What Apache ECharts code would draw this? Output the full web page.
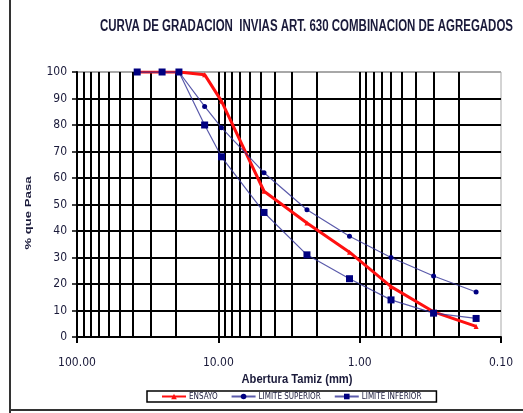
<!DOCTYPE html>
<html><head><meta charset="utf-8">
<script src="https://cdn.jsdelivr.net/npm/echarts@6/dist/echarts.min.js"></script>
<style>html,body{margin:0;padding:0;background:#fff}#c{width:523px;height:413px}</style>
</head><body><div id="c"></div>
<script>
const sizes = [37.5, 25, 19, 12.5, 9.5, 4.75, 2.36, 1.18, 0.6, 0.3, 0.15];
const ensayo = [100, 100, 100, 99, 89, 55, 43, 32, 19, 9.5, 4];
const limSup = [100, 100, 100, 87, 79, 62, 48, 38, 30, 23, 17];
const limInf = [100, 100, 100, 80, 68, 47, 31, 22, 14, 9, 7];
const gridTicks = [90,80,70,60,50,40,30,20,10,9,8,7,6,5,4,3,2,1,0.9,0.8,0.7,0.6,0.5,0.4,0.3,0.2];
const xTickLabels = {100:'100.00',10:'10.00',1:'1.00',0.1:'0.10'};
const titleText = 'CURVA DE GRADACION  INVIAS ART. 630 COMBINACION DE AGREGADOS';
const yName = '% que Pasa';
const xName = 'Abertura Tamiz (mm)';

const narrow = '"Liberation Sans Narrow","DejaVu Sans Condensed",Arial,sans-serif';
const ctx = document.createElement('canvas').getContext('2d');
function fit(font, text, target){ ctx.font = font; return target / ctx.measureText(text).width; }
const titleFont = 'bold 16px "Liberation Sans", Arial, sans-serif';
const yNameFont = 'bold 9px "Liberation Sans", Arial, sans-serif';
const xNameFont = 'bold 12px "Liberation Sans", Arial, sans-serif';

const pair = a => sizes.map((s,i)=>[s,a[i]]);
const chart = echarts.init(document.getElementById('c'), null, {renderer:'canvas'});
const yColors = [];
for (let i=0;i<=10;i++) yColors.push(i===10?'#a8a8a8':'#000');
chart.setOption({
  animation:false,
  backgroundColor:'#fff',
  graphic:[
    {type:'text', x:100, y:19, scaleX:fit(titleFont,titleText,413), style:{text:titleText, font:titleFont, fill:'#1a1a3a', textVerticalAlign:'top'}},
    {type:'text', x:28.5, y:213, rotation:Math.PI/2, scaleX:fit(yNameFont,yName,73), style:{text:yName, font:yNameFont, fill:'#1a1a3a', textAlign:'center', textVerticalAlign:'middle'}},
    {type:'text', x:297, y:380, scaleX:fit(xNameFont,xName,111), style:{text:xName, font:xNameFont, fill:'#1a1a3a', textAlign:'center', textVerticalAlign:'middle'}},
    {type:'line', shape:{x1:10,y1:0,x2:10,y2:413}, style:{stroke:'#333',lineWidth:2}},
    {type:'line', shape:{x1:10,y1:410,x2:523,y2:410}, style:{stroke:'#333',lineWidth:2}}
  ],
  grid:{left:77, top:72, width:424, height:265, show:true, borderColor:'#a8a8a8', borderWidth:1, backgroundColor:'transparent'},
  xAxis:{
    type:'log', logBase:10, min:0.1, max:100, inverse:true,
    axisLine:{show:true, onZero:false, lineStyle:{color:'#000', width:2}},
    axisTick:{show:true, length:6, lineStyle:{color:'#000', width:2}},
    axisLabel:{margin:20, fontFamily:narrow, fontSize:12, color:'#1a1a3a', formatter:v=>xTickLabels[v]!==undefined?xTickLabels[v]:v.toFixed(2)},
    splitLine:{show:false}
  },
  yAxis:{
    type:'value', min:0, max:100, interval:10,
    axisLine:{show:true, lineStyle:{color:'#000', width:2}},
    axisTick:{show:true, length:5, lineStyle:{color:'#000', width:1.5}},
    axisLabel:{margin:10, fontFamily:narrow, fontSize:12, color:'#1a1a3a'},
    splitLine:{show:true, lineStyle:{color:yColors, width:2}}
  },
  legend:{
    left:147, top:391,
    data:['ENSAYO','LIMITE SUPERIOR','LIMITE INFERIOR'],
    itemWidth:24, itemHeight:7, itemGap:13,
    borderColor:'#000', borderWidth:1.5, padding:[1.5,15,1.5,14],
    textStyle:{fontFamily:narrow, fontSize:8, color:'#1a1a3a', padding:[0,0,0,-2]}
  },
  series:[
    {name:'ENSAYO', type:'line', data:pair(ensayo), z:3,
     lineStyle:{color:'#ff1010', width:3}, itemStyle:{color:'#ff1010'},
     symbol:'triangle', symbolSize:5, showSymbol:true,
     markLine:{silent:true, symbol:'none', label:{show:false}, z:1,
       lineStyle:{color:'#000', width:2, type:'solid'},
       data:gridTicks.map(v=>({xAxis:v}))}},
    {name:'LIMITE SUPERIOR', type:'line', data:pair(limSup), z:4,
     lineStyle:{color:'rgba(50,50,150,0.8)', width:1.2}, itemStyle:{color:'#000080'},
     symbol:'circle', symbolSize:5},
    {name:'LIMITE INFERIOR', type:'line', data:pair(limInf), z:4,
     lineStyle:{color:'rgba(50,50,150,0.8)', width:1.2}, itemStyle:{color:'#000080'},
     symbol:'rect', symbolSize:7}
  ]
});
</script></body></html>
